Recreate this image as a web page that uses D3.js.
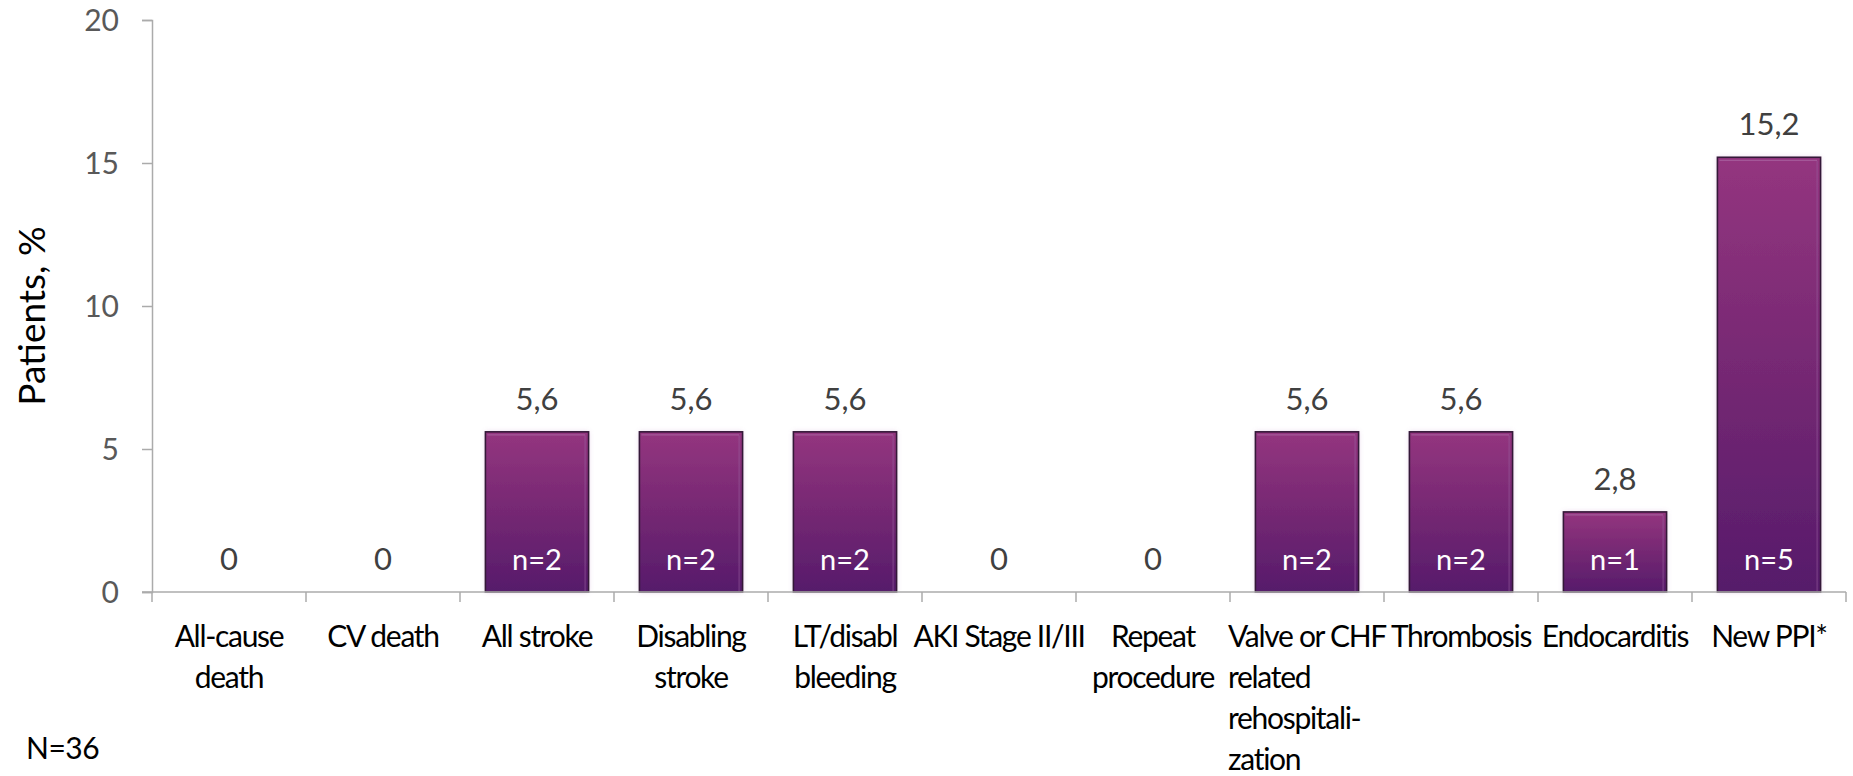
<!DOCTYPE html>
<html>
<head>
<meta charset="utf-8">
<script src="https://cdn.jsdelivr.net/npm/d3@7"></script>
<style>
  html, body { margin: 0; padding: 0; background: #ffffff; }
  svg { display: block; }
</style>
</head>
<body>
<svg id="chart" width="1853" height="776"></svg>
<script>
// Event rates per outcome (percent of patients), with patient counts
const categoryLines = [
  ["All-cause", "death"],
  ["CV death"],
  ["All stroke"],
  ["Disabling", "stroke"],
  ["LT/disabl", "bleeding"],
  ["AKI Stage II/III"],
  ["Repeat", "procedure"],
  ["Valve or CHF", "related", "rehospitali-", "zation"],
  ["Thrombosis"],
  ["Endocarditis"],
  ["New PPI*"]
];
const values = [0, 0, 5.6, 5.6, 5.6, 0, 0, 5.6, 5.6, 2.8, 15.2];
const counts = [0, 0, 2, 2, 2, 0, 0, 2, 2, 1, 5];
const yTicks = [0, 5, 10, 15, 20];
const yTitle = "Patients, %";
const footnote = "N=36";

const FONT = "Lato, 'Open Sans', sans-serif";
const svg = d3.select("#chart");

const margin = { left: 152, right: 7, top: 20, bottom: 184 };
const W = 1853, H = 776;

const x = d3.scaleBand()
  .domain(d3.range(values.length))
  .range([margin.left, W - margin.right])
  .paddingInner(0.33)
  .paddingOuter(0.165);

const y = d3.scaleLinear()
  .domain([0, 20])
  .range([H - margin.bottom, margin.top]);

const fmt = v => d3.format(".1~f")(v).replace(".", ",");

// gradient and soft glow for bars
const defs = svg.append("defs");
const grad = defs.append("linearGradient")
  .attr("id", "barGrad").attr("x1", 0).attr("y1", 0).attr("x2", 0).attr("y2", 1);
grad.append("stop").attr("offset", "0%").attr("stop-color", "#94357f");
grad.append("stop").attr("offset", "50%").attr("stop-color", "#752873");
grad.append("stop").attr("offset", "100%").attr("stop-color", "#561b6b");

const glow = defs.append("filter").attr("id", "glow")
  .attr("x", "-20%").attr("y", "-10%").attr("width", "140%").attr("height", "120%");
glow.append("feGaussianBlur").attr("in", "SourceAlpha").attr("stdDeviation", 2.5).attr("result", "b");
glow.append("feFlood").attr("flood-color", "#b070b8").attr("flood-opacity", 0.35);
glow.append("feComposite").attr("in2", "b").attr("operator", "in").attr("result", "g");
const merge = glow.append("feMerge");
merge.append("feMergeNode").attr("in", "g");
merge.append("feMergeNode").attr("in", "SourceGraphic");

// y axis
const yAxis = svg.append("g")
  .attr("transform", `translate(${margin.left},0)`)
  .call(d3.axisLeft(y).tickValues(yTicks).tickSize(10).tickPadding(23).tickFormat(d => d));
yAxis.selectAll("path, line").attr("stroke", "#ababab").attr("stroke-width", 1.5);
yAxis.selectAll("text")
  .attr("font-family", FONT).attr("font-size", 30).attr("fill", "#595959")
  .attr("dy", "0.36em");

const barData = values.map((v, i) => ({ v, i })).filter(d => d.v > 0);

// bars
const bars = svg.append("g");
bars.selectAll("rect.bar")
  .data(barData)
  .join("rect")
  .attr("class", "bar")
  .attr("x", d => x(d.i))
  .attr("y", d => y(d.v))
  .attr("width", x.bandwidth())
  .attr("height", d => y(0) - y(d.v))
  .attr("fill", "url(#barGrad)")
  .attr("filter", "url(#glow)");

// bevel on the right and top edges
bars.selectAll("line.bevelR")
  .data(barData)
  .join("line")
  .attr("x1", d => x(d.i) + x.bandwidth() - 3.5)
  .attr("x2", d => x(d.i) + x.bandwidth() - 3.5)
  .attr("y1", d => y(d.v) + 3.5)
  .attr("y2", y(0) - 1)
  .attr("stroke", "#9a5fa0").attr("stroke-opacity", 0.5).attr("stroke-width", 1.2);
bars.selectAll("line.bevelT")
  .data(barData)
  .join("line")
  .attr("x1", d => x(d.i) + 2)
  .attr("x2", d => x(d.i) + x.bandwidth() - 3.5)
  .attr("y1", d => y(d.v) + 3)
  .attr("y2", d => y(d.v) + 3)
  .attr("stroke", "#b880b8").attr("stroke-opacity", 0.45).attr("stroke-width", 1.2);

// dark outline
bars.selectAll("rect.outline")
  .data(barData)
  .join("rect")
  .attr("class", "outline")
  .attr("x", d => x(d.i))
  .attr("y", d => y(d.v))
  .attr("width", x.bandwidth())
  .attr("height", d => y(0) - y(d.v))
  .attr("fill", "none")
  .attr("stroke", "#341838")
  .attr("stroke-width", 1.6);

// x axis baseline and category separators
const step = x.step();
const x0 = margin.left, x1 = W - margin.right;
svg.append("line")
  .attr("x1", x0 - 10).attr("x2", x1).attr("y1", y(0)).attr("y2", y(0))
  .attr("stroke", "#ababab").attr("stroke-width", 1.5);
svg.append("g").selectAll("line")
  .data(d3.range(values.length + 1))
  .join("line")
  .attr("x1", i => x0 + i * step).attr("x2", i => x0 + i * step)
  .attr("y1", y(0)).attr("y2", y(0) + 10)
  .attr("stroke", "#ababab").attr("stroke-width", 1.5);

// value labels above bars
svg.append("g").selectAll("text")
  .data(values.map((v, i) => ({ v, i })))
  .join("text")
  .attr("x", d => x(d.i) + x.bandwidth() / 2)
  .attr("y", d => y(d.v) - 22)
  .attr("text-anchor", "middle")
  .attr("font-family", FONT).attr("font-size", 31).attr("fill", "#404040")
  .text(d => fmt(d.v));

// counts inside bars
svg.append("g").selectAll("text")
  .data(counts.map((c, i) => ({ c, i })).filter(d => d.c > 0))
  .join("text")
  .attr("x", d => x(d.i) + x.bandwidth() / 2)
  .attr("y", y(0) - 22)
  .attr("text-anchor", "middle")
  .attr("font-family", FONT).attr("font-size", 29).attr("fill", "#ffffff")
  .text(d => "n=" + d.c);

// category labels
const catG = svg.append("g")
  .attr("font-family", FONT).attr("font-size", 30).attr("fill", "#000000")
  .attr("letter-spacing", "-1.3px");
categoryLines.forEach((lines, i) => {
  const cx = x(i) + x.bandwidth() / 2;
  const t = catG.append("text").attr("text-anchor", "middle");
  lines.forEach((ln, k) => {
    t.append("tspan").attr("x", cx).attr("y", 647 + k * 41).text(ln);
  });
  if (lines.length > 2) {
    // long wrapped label: lines share the left edge of the first line
    const firstW = t.select("tspan").node().getComputedTextLength();
    t.attr("text-anchor", "start");
    t.selectAll("tspan").attr("x", cx - firstW / 2);
  }
});

// y axis title
svg.append("text")
  .attr("transform", `translate(45,${(y(0) + y(20)) / 2 + 10}) rotate(-90)`)
  .attr("text-anchor", "middle")
  .attr("font-family", FONT).attr("font-size", 37).attr("fill", "#000000")
  .text(yTitle);

// sample size note
svg.append("text")
  .attr("x", 26).attr("y", 759)
  .attr("font-family", FONT).attr("font-size", 30).attr("fill", "#000000")
  .attr("letter-spacing", "-0.5px")
  .text(footnote);
</script>
</body>
</html>
